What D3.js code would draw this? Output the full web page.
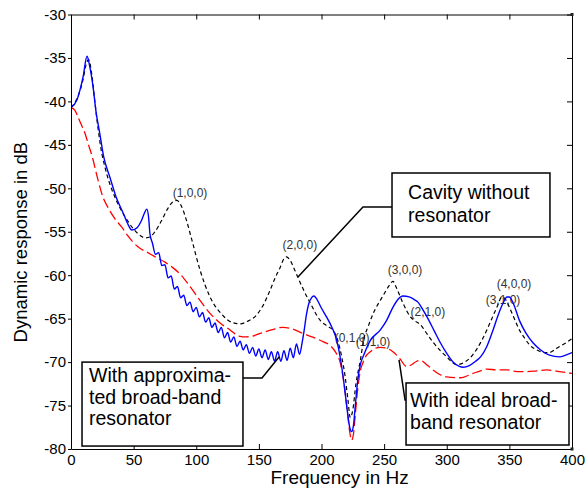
<!DOCTYPE html>
<html lang="en">
<head>
  <meta charset="UTF-8" />
  <title>Dynamic response in dB</title>
  <script src="https://d3js.org/d3.v7.min.js"></script>
  <style>
    body {
      margin: 0;
      background: #fff;
    }

    svg {
      display: block;
      background-color: #fff;
      font-family: "Liberation Sans", Arial, sans-serif;
    }
  </style>
</head>
<body>
  <div id="chart"></div>

  <script>
    // tick labels
    const xTicks = [0, 50, 100, 150, 200, 250, 300, 350, 400];
    const yTicks = [-80, -75, -70, -65, -60, -55, -50, -45, -40, -35, -30];

    // [Hz, dB]
    const cavityNoResonator = [
      [0, -40.7], [5, -39.6], [9.6, -37.5], [12, -35.8], [14, -35.2], [16.5, -36.8], [19, -40], [21.5, -43],
      [24, -45.5], [27, -47.5], [31, -49.5], [35, -51], [40, -52.5], [45.5, -53.8], [50, -54.7],
      [55, -55.4], [59, -55.7], [63, -55.6], [67, -55], [72, -53.8], [77, -52.4], [81, -51.6],
      [84.5, -51.4], [88, -52], [92, -53.6], [96.6, -56], [103, -59.4], [111, -62.5], [121, -64.6],
      [128, -65.4], [135, -65.6], [141, -65.3], [148, -64.6], [154, -63.3], [159, -61.7],
      [163, -60.3], [167, -59.1], [170, -58.1], [172, -57.9], [175, -58.3], [178, -59.2],
      [181, -60.2], [186, -61.8], [191, -63.2], [199, -65.2], [205, -65.9], [209, -66.3],
      [213, -67.5], [216, -69.3], [219, -71.8], [221, -74.2], [223, -76.4], [225, -75.5],
      [227.5, -72.5], [231, -69.8], [234, -67.2], [237, -66], [241, -64.5], [249, -62.4],
      [254, -61.2], [257, -60.7], [260, -61.5], [265, -63.2], [271, -64.8], [275, -65.3],
      [279, -65.7], [284, -66.7], [289, -67.7], [295, -68.7], [300, -69.4], [305, -70.1],
      [308, -70.3], [313, -70.1], [318, -69.6], [324, -68.5], [328, -67.5], [332, -66.3],
      [336, -65], [340, -63.7], [344, -62.5], [347, -62.8], [350, -63.7], [354, -65],
      [358, -66.3], [362, -67.2], [366, -68], [372, -68.6], [378, -68.9], [382, -68.9],
      [386, -68.6], [390, -68.2], [395, -67.8], [400, -67.3]
    ];

    const approxResonator = [
      [0, -40.7], [4.8, -39.8], [9.6, -37.2], [12.8, -34.8], [15, -36], [17.6, -38.3], [20, -41.2],
      [23, -43.7], [26, -46.3], [31, -48.7], [36, -51], [41.8, -52.9], [45, -54], [48.6, -54.8],
      [53, -54.5], [56, -53.8], [58.5, -52.9], [60.5, -52.4], [62, -53.4], [63, -55.2],
      [65, -56.3], [67.5, -57.6], [70, -57.4], [72.5, -58.9], [75, -58.8], [77.5, -60.3],
      [80, -60.1], [82.5, -61.6], [85, -61.3], [87.5, -62.6], [90, -62.3], [92.5, -63.5],
      [95, -63.1], [97.5, -64.2], [100, -63.7], [102.5, -64.8], [105, -64.3], [107.5, -65.4],
      [110, -64.9], [112.5, -66], [115, -65.5], [117.5, -66.6], [120, -66], [122.5, -67.2],
      [125, -66.6], [127.5, -67.7], [130, -67.1], [132.5, -68.2], [135, -67.6], [137.5, -68.6],
      [140, -68], [142.5, -69], [145, -68.3], [147.5, -69.3], [150, -68.5], [152.5, -69.5],
      [155, -68.6], [157.5, -69.7], [160, -68.8], [162.5, -69.9], [165, -68.8], [167.5, -69.9],
      [170, -68.7], [172.5, -69.8], [175, -68.4], [177.5, -69.5], [180, -67.9], [182.5, -69.1],
      [184.5, -67.8], [186, -66.5], [188, -64.5], [190, -63.2], [192, -62.6], [194, -62.4],
      [196, -62.7], [200, -63.8], [204, -64.8], [208, -65.9], [212, -67.4], [215, -69.5],
      [218, -72.5], [220.5, -75.5], [222.5, -77.5], [224, -78], [225.5, -77.3], [227, -75],
      [229, -72], [231, -70.3], [234, -69.1], [239, -67.5], [247, -66.3], [252, -65.2],
      [257, -63.7], [261, -62.8], [265, -62.4], [270, -62.5], [274, -62.8], [277, -63.1],
      [281, -64], [285, -65], [290, -66.4], [295, -67.8], [300, -69], [305, -70], [310, -70.5],
      [313, -70.6], [318, -70.4], [323, -69.9], [327, -69.4], [332, -68.2], [337, -66.3],
      [341, -64.6], [345, -63.2], [348, -62.5], [350, -62.5], [353, -63.2], [358, -65.2],
      [363, -66.6], [369, -67.8], [375, -68.6], [382, -69.2], [390, -69.4], [395, -69.2],
      [400, -68.9]
    ];

    const idealResonator = [
      [0, -40.7], [3, -41], [5.6, -41.8], [8, -42.6], [11, -43.6], [14, -45], [17, -46.4],
      [21.5, -49], [25, -50.8], [29.5, -52.2], [35, -53.5], [40.7, -54.5], [45, -55.4],
      [49.5, -56.2], [55, -56.9], [60, -57.3], [68.7, -58], [75, -58.5], [81, -59.1],
      [88, -60], [95, -61.3], [103, -62.9], [111, -64.4], [119, -65.5], [127, -66.3],
      [134, -67], [140, -67.1], [145, -67], [151, -66.7], [160, -66.3], [169, -66],
      [177, -66.2], [185, -66.7], [196, -67.3], [202, -67.7], [207, -68.1], [211, -68.8],
      [215, -70.1], [218, -72.5], [220.5, -75.5], [222.5, -78], [224, -79], [225.5, -78.3],
      [227, -76], [229, -73], [231, -71], [233, -70.1], [236, -69.2], [239, -68.8],
      [243, -68.4], [247, -68.3], [252, -68.4], [257, -68.8], [262, -69.5], [268, -70.5],
      [272, -70.3], [276, -69.9], [279, -69.8], [284, -70.3], [289, -70.9], [294, -71.4],
      [300, -71.7], [311, -71.8], [321, -71.3], [327, -71], [332, -70.8], [340, -70.9],
      [348, -70.9], [356, -71.1], [364, -71.1], [372, -71], [380, -70.9], [390, -71.1],
      [400, -71.3]
    ];

    // mode labels, anchored at [Hz, dB]
    const modeNames = ["(1,0,0)", "(2,0,0)", "(3,0,0)", "(2,1,0)", "(4,0,0)", "(3,1,0)", "(0,1,0)", "(1,1,0)"];
    const modeAt = [[95, -50.5], [182.8, -56.5], [266.7, -59.4], [285, -64.2], [353.7, -61], [344.9, -62.85], [224.4, -67.2], [241.1, -67.7]];

    // text callouts
    const callouts = [
      {
        lines: ["Cavity without", "resonator"],
        box: [256.3, -48.24, 382.4, -55.6],
        textHz: 269.1, baselines: [-51.23, -53.88],
        leader: [[256.3, -52.15], [233.1, -52.15], [181.2, -60.21]]
      },
      {
        lines: ["With approxima-", "ted broad-band", "resonator"],
        box: [8.8, -70, 137.3, -79.66],
        textHz: 14.4, baselines: [-72.3, -74.83, -77.24],
        leader: [[137.3, -71.83], [152.5, -71.83], [166.1, -69.41]]
      },
      {
        lines: ["With ideal broad-", "band resonator"],
        box: [267.5, -72.4, 397.6, -79.54],
        textHz: 270.7, baselines: [-75.17, -77.7],
        leader: [[261.9, -69.75], [266.7, -74.36], [267.5, -74.36]]
      }
    ];

    const margin = { top: 14.5, right: 14, bottom: 41, left: 71 };
    const width = 586 - margin.left - margin.right;
    const height = 490 - margin.top - margin.bottom;

    const svg = d3.select("#chart")
      .append("svg")
      .attr("width", width + margin.left + margin.right)
      .attr("height", height + margin.top + margin.bottom)
      .append("g")
      .attr("transform", `translate(${margin.left},${margin.top})`);

    const x = d3.scaleLinear().domain([0, 400]).range([0, width]);
    const y = d3.scaleLinear().domain([-80, -30]).range([height, 0]);

    svg.append("clipPath")
      .attr("id", "plot-clip")
      .append("rect")
      .attr("width", width)
      .attr("height", height);

    // mode labels (drawn under the curves)
    svg.append("g")
      .selectAll("text")
      .data(modeNames)
      .join("text")
      .attr("x", (d, i) => x(modeAt[i][0]))
      .attr("y", (d, i) => y(modeAt[i][1]))
      .attr("dy", "0.35em")
      .attr("text-anchor", "middle")
      .attr("font-size", 12)
      .attr("fill", "#333")
      .text(d => d);

    const line = d3.line()
      .x(d => x(d[0]))
      .y(d => y(d[1]))
      .curve(d3.curveMonotoneX);

    const curves = svg.append("g").attr("clip-path", "url(#plot-clip)");

    curves.append("path")
      .datum(idealResonator)
      .attr("fill", "none")
      .attr("stroke", "#ff0000")
      .attr("stroke-width", 1.3)
      .attr("stroke-dasharray", "10,4")
      .attr("d", line);

    curves.append("path")
      .datum(cavityNoResonator)
      .attr("fill", "none")
      .attr("stroke", "#000")
      .attr("stroke-width", 1.2)
      .attr("stroke-dasharray", "4,3")
      .attr("d", line);

    curves.append("path")
      .datum(approxResonator)
      .attr("fill", "none")
      .attr("stroke", "#0000ff")
      .attr("stroke-width", 1.4)
      .attr("d", line);

    // axes (matlab style: inward ticks on bottom/top/right)
    const styleAxis = g => {
      g.attr("font-family", null).attr("font-size", 15);
      g.selectAll("text").attr("fill", "#000");
      g.selectAll("path, line").attr("stroke", "#000");
    };

    // plain hyphen minus like the original
    const plain = d => String(d);

    svg.append("g")
      .attr("transform", `translate(0,${height})`)
      .call(d3.axisBottom(x).tickValues(xTicks).tickFormat(plain).tickSizeInner(-5).tickSizeOuter(0).tickPadding(5))
      .call(styleAxis);

    svg.append("g")
      .call(d3.axisLeft(y).tickValues(yTicks).tickFormat(plain).tickSizeInner(3).tickSizeOuter(0).tickPadding(2))
      .call(styleAxis);

    svg.append("g")
      .call(d3.axisTop(x).tickValues(xTicks).tickSizeInner(-5).tickSizeOuter(0).tickFormat(""))
      .call(styleAxis);

    svg.append("g")
      .attr("transform", `translate(${width},0)`)
      .call(d3.axisRight(y).tickValues(yTicks).tickSizeInner(-5).tickSizeOuter(0).tickFormat(""))
      .call(styleAxis);

    // little corner markers on the right edge
    [[400, -30], [400, -80]].forEach(p => {
      svg.append("rect")
        .attr("x", x(p[0]) - 1.5)
        .attr("y", y(p[1]) - 1.5)
        .attr("width", 3)
        .attr("height", 3)
        .attr("fill", "#222");
    });

    // axis titles
    svg.append("text")
      .attr("x", x(214.5))
      .attr("y", height + 35)
      .attr("text-anchor", "middle")
      .attr("font-size", 19)
      .text("Frequency in Hz");

    svg.append("text")
      .attr("transform", "rotate(-90)")
      .attr("x", -(y(-56.2)))
      .attr("y", -44)
      .attr("text-anchor", "middle")
      .attr("font-size", 18.5)
      .text("Dynamic response in dB");

    // callout boxes with leader lines
    const leaderLine = d3.line().x(d => x(d[0])).y(d => y(d[1]));

    callouts.forEach(c => {
      svg.append("path")
        .attr("d", leaderLine(c.leader))
        .attr("fill", "none")
        .attr("stroke", "#000")
        .attr("stroke-width", 1.5);

      svg.append("rect")
        .attr("x", x(c.box[0]))
        .attr("y", y(c.box[1]))
        .attr("width", x(c.box[2]) - x(c.box[0]))
        .attr("height", y(c.box[3]) - y(c.box[1]))
        .attr("fill", "#fff")
        .attr("stroke", "#000")
        .attr("stroke-width", 1.5);

      c.lines.forEach((t, i) => {
        svg.append("text")
          .attr("x", x(c.textHz))
          .attr("y", y(c.baselines[i]))
          .attr("font-size", 19.5)
          .text(t);
      });
    });
  </script>
</body>
</html>
